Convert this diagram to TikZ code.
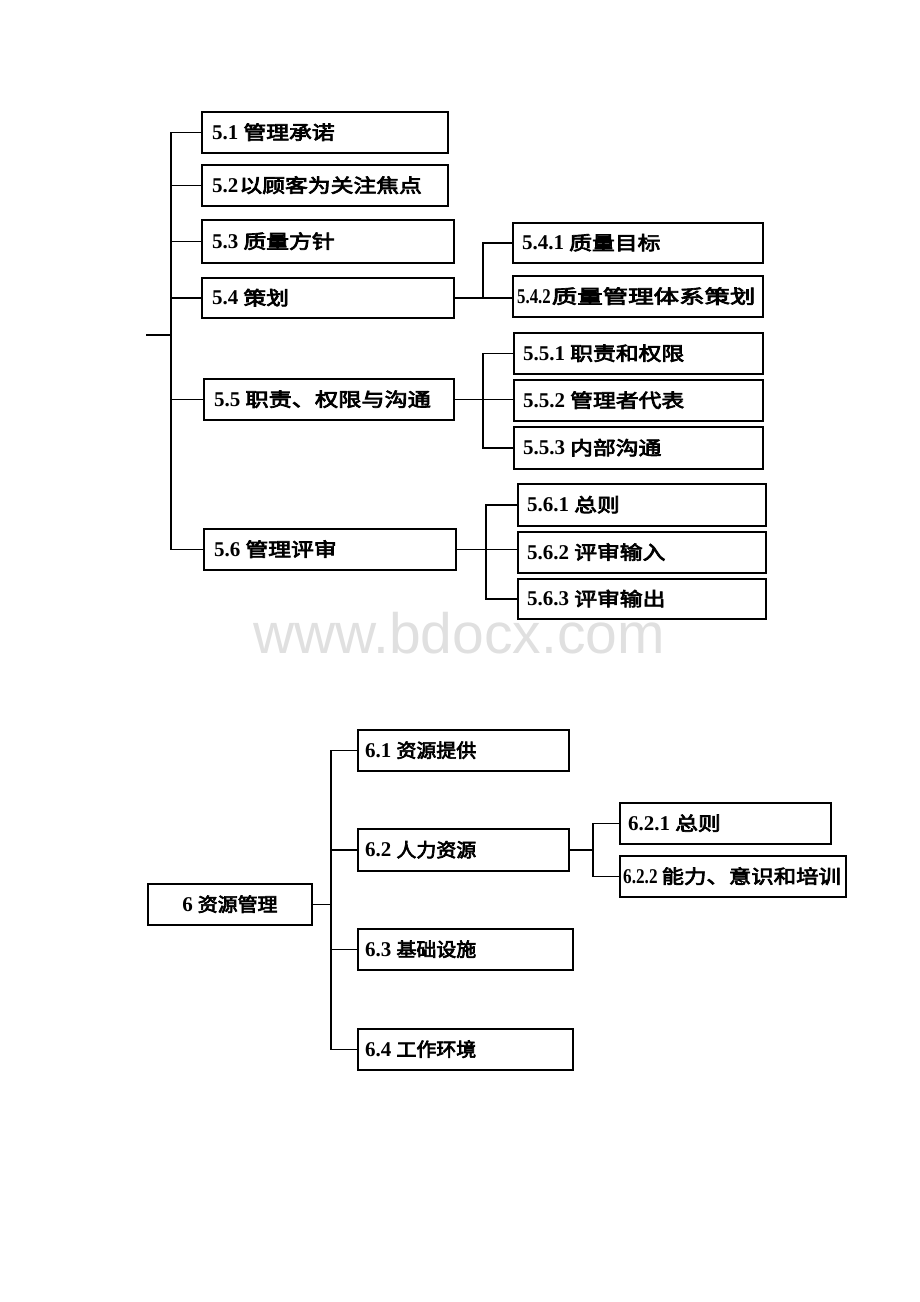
\documentclass[tikz,border=0pt]{standalone}
\usepackage{fontspec}
\usepackage{graphicx}
\newfontfamily\cjk[FakeBold=3.5]{Noto Sans CJK SC}
\newfontfamily\lat{Liberation Serif}
\newfontfamily\wmfont{Liberation Sans}
\definecolor{wm}{RGB}{224,224,224}
\newcommand\tx[5][1]{\scalebox{#1}[1]{\lat\bfseries\fontsize{21}{21}\selectfont #2}\hspace{#3}\scalebox{#4}[1]{\cjk #5}}
\begin{document}
\begin{tikzpicture}[x=1pt,y=-1pt,
  box/.style={draw, line width=1.8pt, anchor=north west, inner sep=0pt},
  lab/.style={anchor=west, inner sep=0pt, font=\fontsize{19}{19}\selectfont, text height=14pt, text depth=0pt},
  conn/.style={line width=1.8pt, line cap=rect}]
\useasboundingbox (0,0) rectangle (920,1302);
\node[font=\wmfont\fontsize{57}{57}\selectfont, text=wm, anchor=base, inner sep=0pt] (wmk) at (459,653) {www.bdocx.com};

% section 5 boxes
\node[box, minimum width=246pt, minimum height=41pt] (n51) at (201,111) {};
\node[box, minimum width=246pt, minimum height=41pt] (n52) at (201,164) {};
\node[box, minimum width=252pt, minimum height=43pt] (n53) at (201,219) {};
\node[box, minimum width=252pt, minimum height=40pt] (n54) at (201,277) {};
\node[box, minimum width=250pt, minimum height=41pt] (n55) at (203,378) {};
\node[box, minimum width=252pt, minimum height=41pt] (n56) at (203,528) {};
\node[box, minimum width=250pt, minimum height=40pt] (n541) at (512,222) {};
\node[box, minimum width=250pt, minimum height=41pt] (n542) at (512,275) {};
\node[box, minimum width=249pt, minimum height=41pt] (n551) at (513,332) {};
\node[box, minimum width=249pt, minimum height=41pt] (n552) at (513,379) {};
\node[box, minimum width=249pt, minimum height=42pt] (n553) at (513,426) {};
\node[box, minimum width=248pt, minimum height=42pt] (n561) at (517,483) {};
\node[box, minimum width=248pt, minimum height=41pt] (n562) at (517,531) {};
\node[box, minimum width=248pt, minimum height=40pt] (n563) at (517,578) {};

\node[lab] (t51) at ([xshift=11pt]n51.west) {\tx{5.1}{5pt}{1.2}{管理承诺}};
\node[lab] (t52) at ([xshift=11pt]n52.west) {\tx{5.2}{1pt}{1.2}{以顾客为关注焦点}};
\node[lab] (t53) at ([xshift=11pt]n53.west) {\tx{5.3}{5pt}{1.2}{质量方针}};
\node[lab] (t54) at ([xshift=11pt]n54.west) {\tx{5.4}{5pt}{1.2}{策划}};
\node[lab] (t55) at ([xshift=11pt]n55.west) {\tx{5.5}{5pt}{1.22}{职责、权限与沟通}};
\node[lab] (t56) at ([xshift=11pt]n56.west) {\tx{5.6}{5pt}{1.2}{管理评审}};
\node[lab] (t541) at ([xshift=10pt]n541.west) {\tx{5.4.1}{5pt}{1.2}{质量目标}};
\node[lab] (t542) at ([xshift=5pt]n542.west) {\tx[0.8]{5.4.2}{1pt}{1.34}{质量管理体系策划}};
\node[lab] (t551) at ([xshift=10pt]n551.west) {\tx{5.5.1}{5pt}{1.2}{职责和权限}};
\node[lab] (t552) at ([xshift=10pt]n552.west) {\tx{5.5.2}{5pt}{1.2}{管理者代表}};
\node[lab] (t553) at ([xshift=10pt]n553.west) {\tx{5.5.3}{5pt}{1.2}{内部沟通}};
\node[lab] (t561) at ([xshift=10pt]n561.west) {\tx{5.6.1}{5pt}{1.2}{总则}};
\node[lab] (t562) at ([xshift=10pt]n562.west) {\tx{5.6.2}{5pt}{1.2}{评审输入}};
\node[lab] (t563) at ([xshift=10pt]n563.west) {\tx{5.6.3}{5pt}{1.2}{评审输出}};

% section 5 connectors
\coordinate (tr5) at (171,335);
\coordinate (stub) at (147,335);
\draw[conn] (stub) -- (tr5);
\draw[conn] (n51.west) -- (n51.west -| tr5) -- (n56.west -| tr5) -- (n56.west);
\foreach \n in {n52,n53,n54,n55} \draw[conn] (\n.west) -- (\n.west -| tr5);

\coordinate (b54) at (483,0);
\draw[conn] (n541.west) -- (n541.west -| b54) -- (n54.east -| b54);
\draw[conn] (n54.east) -- (n54.east -| n542.west);

\coordinate (b55) at (483,0);
\draw[conn] (n551.west) -- (n551.west -| b55) -- (n553.west -| b55) -- (n553.west);
\draw[conn] (n55.east) -- (n55.east -| n552.west);

\coordinate (b56) at (486,0);
\draw[conn] (n561.west) -- (n561.west -| b56) -- (n563.west -| b56) -- (n563.west);
\draw[conn] (n56.east) -- (n56.east -| n562.west);

% section 6 boxes
\node[box, minimum width=164pt, minimum height=41pt] (n6) at (147,883) {};
\node[box, minimum width=211pt, minimum height=41pt] (n61) at (357,729) {};
\node[box, minimum width=211pt, minimum height=42pt] (n62) at (357,828) {};
\node[box, minimum width=215pt, minimum height=41pt] (n63) at (357,928) {};
\node[box, minimum width=215pt, minimum height=41pt] (n64) at (357,1028) {};
\node[box, minimum width=211pt, minimum height=41pt] (n621) at (619,802) {};
\node[box, minimum width=226pt, minimum height=41pt] (n622) at (619,855) {};

\node[lab, anchor=center] (t6) at (n6.center) {\tx{6}{5pt}{1.05}{资源管理}};
\node[lab] (t61) at ([xshift=8pt]n61.west) {\tx{6.1}{5pt}{1.05}{资源提供}};
\node[lab] (t62) at ([xshift=8pt]n62.west) {\tx{6.2}{5pt}{1.05}{人力资源}};
\node[lab] (t63) at ([xshift=8pt]n63.west) {\tx{6.3}{5pt}{1.05}{基础设施}};
\node[lab] (t64) at ([xshift=8pt]n64.west) {\tx{6.4}{5pt}{1.05}{工作环境}};
\node[lab] (t621) at ([xshift=9pt]n621.west) {\tx{6.2.1}{5pt}{1.2}{总则}};
\node[lab] (t622) at ([xshift=4pt]n622.west) {\tx[0.82]{6.2.2}{4pt}{1.18}{能力、意识和培训}};

% section 6 connectors
\coordinate (tr6) at (331,0);
\draw[conn] (n61.west) -- (n61.west -| tr6) -- (n64.west -| tr6) -- (n64.west);
\draw[conn] (n62.west) -- (n62.west -| tr6);
\draw[conn] (n63.west) -- (n63.west -| tr6);
\draw[conn] (n6.east) -- (n6.east -| tr6);

\coordinate (b62) at (593,0);
\draw[conn] (n621.west) -- (n621.west -| b62) -- (n622.west -| b62) -- (n622.west);
\draw[conn] (n62.east) -- (n62.east -| b62);
\end{tikzpicture}
\end{document}
